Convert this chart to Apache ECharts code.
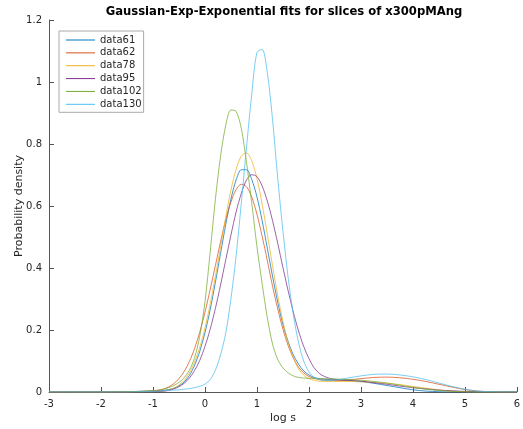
<!DOCTYPE html>
<html>
<head>
<meta charset="utf-8">
<script src="https://cdn.jsdelivr.net/npm/echarts@6/dist/echarts.min.js"></script>
<style>html,body{margin:0;padding:0;background:#fff;}#c{width:523px;height:429px;}</style>
</head>
<body>
<div id="c"></div>
<script>
var seriesNames = ['data61', 'data62', 'data78', 'data95', 'data102', 'data130'];
var xs = [-3, -2.5, -2, -1.5, -1.25, -1, -0.9, -0.8, -0.7, -0.6, -0.5, -0.4, -0.3, -0.2, -0.1, 0, 0.1, 0.2, 0.3, 0.4, 0.5, 0.6, 0.7, 0.8, 0.9, 1.0, 1.1, 1.2, 1.3, 1.4, 1.5, 1.6, 1.7, 1.8, 1.9, 2.0, 2.1, 2.2, 2.3, 2.4, 2.5, 2.75, 3, 3.25, 3.5, 3.75, 4, 4.25, 4.5, 4.75, 5, 5.25, 5.5, 6];
var data61 = [0, 0, 0, 0.001, 0.002, 0.003, 0.004, 0.005, 0.008, 0.012, 0.02, 0.032, 0.053, 0.086, 0.131, 0.191, 0.265, 0.353, 0.447, 0.54, 0.622, 0.684, 0.717, 0.717, 0.686, 0.63, 0.553, 0.464, 0.374, 0.29, 0.218, 0.163, 0.12, 0.09, 0.068, 0.055, 0.047, 0.043, 0.041, 0.04, 0.039, 0.037, 0.034, 0.028, 0.021, 0.014, 0.007, 0.003, 0.001, 0, 0, 0, 0, 0];
var data62 = [0, 0, 0, 0.001, 0.002, 0.004, 0.006, 0.0094, 0.016, 0.027, 0.043, 0.066, 0.098, 0.14, 0.193, 0.257, 0.33, 0.407, 0.484, 0.556, 0.613, 0.653, 0.67, 0.662, 0.629, 0.574, 0.503, 0.424, 0.342, 0.268, 0.203, 0.15, 0.11, 0.08, 0.062, 0.05, 0.044, 0.04, 0.038, 0.037, 0.037, 0.039, 0.043, 0.047, 0.048, 0.046, 0.041, 0.034, 0.025, 0.016, 0.008, 0.003, 0.001, 0];
var data78 = [0, 0, 0, 0, 0.001, 0.001, 0.002, 0.003, 0.0066, 0.0125, 0.022, 0.038, 0.061, 0.096, 0.144, 0.206, 0.283, 0.372, 0.468, 0.564, 0.651, 0.719, 0.761, 0.771, 0.746, 0.689, 0.606, 0.509, 0.408, 0.311, 0.228, 0.16, 0.11, 0.075, 0.054, 0.043, 0.038, 0.035, 0.034, 0.034, 0.034, 0.034, 0.033, 0.031, 0.028, 0.024, 0.018, 0.012, 0.007, 0.003, 0.001, 0, 0, 0];
var data95 = [0, 0, 0, 0, 0.001, 0.001, 0.002, 0.0027, 0.005, 0.0097, 0.017, 0.028, 0.045, 0.069, 0.102, 0.147, 0.202, 0.269, 0.345, 0.426, 0.506, 0.581, 0.641, 0.684, 0.701, 0.695, 0.665, 0.616, 0.553, 0.48, 0.402, 0.327, 0.258, 0.197, 0.147, 0.108, 0.078, 0.06, 0.05, 0.044, 0.041, 0.038, 0.035, 0.03, 0.025, 0.019, 0.014, 0.01, 0.006, 0.004, 0.002, 0.001, 0, 0];
var data102 = [0, 0, 0, 0.001, 0.002, 0.004, 0.006, 0.009, 0.014, 0.021, 0.031, 0.046, 0.07, 0.11, 0.18, 0.29, 0.45, 0.62, 0.76, 0.86, 0.91, 0.905, 0.85, 0.74, 0.61, 0.47, 0.35, 0.24, 0.155, 0.105, 0.078, 0.062, 0.052, 0.047, 0.045, 0.044, 0.044, 0.043, 0.043, 0.042, 0.042, 0.04, 0.038, 0.034, 0.029, 0.022, 0.015, 0.009, 0.005, 0.002, 0.001, 0, 0, 0];
var data130 = [0, 0, 0, 0, 0.001, 0.002, 0.003, 0.004, 0.005, 0.006, 0.007, 0.009, 0.011, 0.014, 0.018, 0.025, 0.04, 0.07, 0.12, 0.19, 0.3, 0.44, 0.61, 0.79, 0.96, 1.095, 1.105, 1.03, 0.88, 0.69, 0.52, 0.37, 0.25, 0.16, 0.10, 0.065, 0.047, 0.04, 0.037, 0.037, 0.038, 0.045, 0.052, 0.057, 0.058, 0.055, 0.049, 0.04, 0.029, 0.018, 0.009, 0.003, 0.001, 0];
var xTicks = [-3, -2, -1, 0, 1, 2, 3, 4, 5, 6];
var yTicks = [0, 0.2, 0.4, 0.6, 0.8, 1, 1.2];
var colors = ['#0072BD', '#D95319', '#EDB120', '#7E2F8E', '#77AC30', '#4DBEEE'];

var allY = [data61, data62, data78, data95, data102, data130];
function pairs(ys) { return xs.map(function (x, i) { return [x, ys[i]]; }); }

var chart = echarts.init(document.getElementById('c'), null, { renderer: 'canvas' });
var axisColor = '#555';
chart.setOption({
  animation: false,
  backgroundColor: '#fff',
  color: colors,
  title: {
    text: 'Gaussian-Exp-Exponential fits for slices of x300pMAng',
    left: 284, top: 6, textAlign: 'center', padding: 0,
    textStyle: { fontFamily: 'DejaVu Sans', fontSize: 11.6, fontWeight: 'bold', color: '#000' }
  },
  legend: {
    orient: 'vertical', left: 59, top: 31,
    data: seriesNames,
    icon: 'rect',
    itemWidth: 29, itemHeight: 1, itemGap: 0.86,
    padding: [3, 2, 2, 7],
    borderColor: '#aaa', borderWidth: 1, backgroundColor: '#fff',
    textStyle: { fontFamily: 'DejaVu Sans', fontSize: 10, lineHeight: 12, color: '#262626' }
  },
  grid: { left: 49, right: 4, top: 20, bottom: 37, containLabel: false },
  xAxis: {
    type: 'value', min: -3, max: 6, interval: 1,
    name: 'log s', nameLocation: 'middle', nameGap: 21, nameMoveOverlap: false,
    nameTextStyle: { fontFamily: 'DejaVu Sans', fontSize: 11, color: '#262626' },
    axisLine: { show: true, onZero: false, lineStyle: { color: axisColor, width: 1 } },
    axisTick: { show: true, inside: true, length: 5, lineStyle: { color: axisColor } },
    axisLabel: { margin: 7, fontFamily: 'DejaVu Sans', fontSize: 10, color: '#262626',
      customValues: xTicks },
    splitLine: { show: false }
  },
  yAxis: {
    type: 'value', min: 0, max: 1.2, interval: 0.2,
    name: 'Probability density', nameLocation: 'middle', nameGap: 24, nameMoveOverlap: false,
    nameTextStyle: { fontFamily: 'DejaVu Sans', fontSize: 11, color: '#262626' },
    axisLine: { show: true, onZero: false, lineStyle: { color: axisColor, width: 1 } },
    axisTick: { show: true, inside: true, length: 5, lineStyle: { color: axisColor } },
    axisLabel: { margin: 7, fontFamily: 'DejaVu Sans', fontSize: 10, color: '#262626',
      customValues: yTicks,
      formatter: function (v) { return String(Math.round(v * 10) / 10); } },
    splitLine: { show: false }
  },
  series: seriesNames.map(function (n, i) {
    return {
      name: n, type: 'line', data: pairs(allY[i]),
      smooth: 0.3, symbol: 'none', showSymbol: false,
      lineStyle: { width: 1, color: colors[i], opacity: 0.75 },
      itemStyle: { color: colors[i] }
    };
  })
});
</script>
</body>
</html>
